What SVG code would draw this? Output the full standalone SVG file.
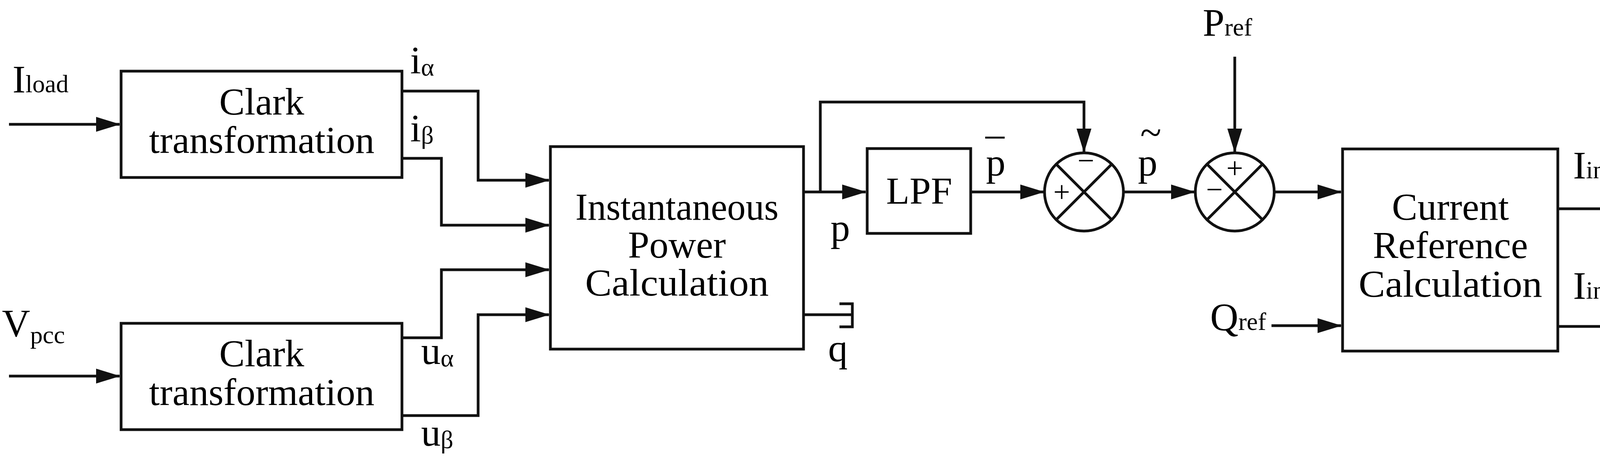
<svg xmlns="http://www.w3.org/2000/svg" width="4284" height="1192" viewBox="0 0 4284 1192">
<style>
.b{fill:#fff;stroke:#111;stroke-width:7}
.w{fill:none;stroke:#111;stroke-width:7;stroke-linejoin:miter}
.a{marker-end:url(#ah)}
.t{font-family:"Liberation Serif",serif;font-size:98px;fill:#000;text-anchor:middle}
.l{font-family:"Liberation Serif",serif;font-size:100px;fill:#000}
.s{font-size:64px}
.g{font-family:"Liberation Serif",serif;font-size:76px;fill:#000;text-anchor:middle}
</style>
<defs>
<marker id="ah" markerUnits="userSpaceOnUse" markerWidth="62" markerHeight="38" refX="60" refY="19" orient="auto">
<path d="M0,0 L62,19 L0,38 Z" fill="#111"/>
</marker>
</defs>
<g id="clark1"><rect class="b" x="310" y="182" width="719" height="272"/>
<text class="t" x="670" y="293">Clark</text><text class="t" x="670" y="391">transformation</text></g>
<g id="clark2"><rect class="b" x="310" y="827" width="719" height="272"/>
<text class="t" x="670" y="937">Clark</text><text class="t" x="670" y="1036">transformation</text></g>
<g id="ipc"><rect class="b" x="1409" y="375" width="648" height="518"/>
<text class="t" x="1733" y="562" textLength="520" lengthAdjust="spacingAndGlyphs">Instantaneous</text><text class="t" x="1733" y="659">Power</text><text class="t" x="1733" y="756" textLength="470" lengthAdjust="spacingAndGlyphs">Calculation</text></g>
<g id="lpf"><rect class="b" x="2220" y="380" width="265" height="217"/>
<text class="t" x="2353" y="521">LPF</text></g>
<g id="sum1"><ellipse class="b" cx="2775" cy="491" rx="101" ry="100"/>
<path class="w" d="M2704,420 L2846,562 M2846,420 L2704,562" stroke-width="6"/>
<text class="g" x="2718" y="516">+</text><text class="g" x="2780" y="436">−</text></g>
<g id="sum2"><ellipse class="b" cx="3161" cy="491" rx="101" ry="100"/>
<path class="w" d="M3090,420 L3232,562 M3232,420 L3090,562" stroke-width="6"/>
<text class="g" x="3161" y="455">+</text><text class="g" x="3109" y="510">−</text></g>
<g id="crc"><rect class="b" x="3437" y="381" width="551" height="517"/>
<text class="t" x="3713" y="562">Current</text><text class="t" x="3713" y="660">Reference</text><text class="t" x="3713" y="759" textLength="470" lengthAdjust="spacingAndGlyphs">Calculation</text></g>
<g id="connectors">
<path class="w a" d="M23,318 H306"/>
<path class="w a" d="M23,962 H306"/>
<path class="w a" d="M1029,233 H1224 V461 H1405"/>
<path class="w a" d="M1029,405 H1130 V576 H1405"/>
<path class="w a" d="M1029,864 H1130 V690 H1405"/>
<path class="w a" d="M1029,1063 H1224 V805 H1405"/>
<path class="w a" d="M2057,491 H2216"/>
<path class="w a" d="M2100,491 V261 H2775 V389"/>
<path class="w" d="M2057,805 H2182 M2149,777 H2182 V836 H2149"/>
<path class="w a" d="M2485,491 H2672"/>
<path class="w a" d="M2876,491 H3058"/>
<path class="w a" d="M3161,145 V389"/>
<path class="w a" d="M3262,491 H3433"/>
<path class="w a" d="M3255,833 H3433"/>
<path class="w a" d="M3988,534 H4263"/>
<path class="w a" d="M3988,835 H4263"/>
</g>
<g id="labels">
<text class="l" x="32" y="236">I<tspan class="s">load</tspan></text>
<text class="l" x="5" y="860">V<tspan class="s" dy="18">pcc</tspan></text>
<text class="l" x="1050" y="187">i<tspan class="s" dy="6">α</tspan></text>
<text class="l" x="1050" y="361">i<tspan class="s" dy="6">β</tspan></text>
<text class="l" x="1078" y="931">u<tspan class="s" dy="6">α</tspan></text>
<text class="l" x="1078" y="1140">u<tspan class="s" dy="6">β</tspan></text>
<text class="l" x="2126" y="616">p</text>
<text class="l" x="2120" y="924">q</text>
<text class="l" x="2524" y="449">p</text>
<path d="M2522,352 H2572" stroke="#111" stroke-width="5"/>
<text class="l" x="2913" y="449">p</text>
<text class="l" x="2919" y="372" font-size="50">~</text>
<text class="l" x="3079" y="91">P<tspan class="s">ref</tspan></text>
<text class="l" x="3098" y="844">Q<tspan class="s">ref</tspan></text>
<text class="l" x="4027" y="456">I<tspan class="s">inv,refα</tspan></text>
<text class="l" x="4027" y="764">I<tspan class="s">inv,refβ</tspan></text>
</g>
</svg>
